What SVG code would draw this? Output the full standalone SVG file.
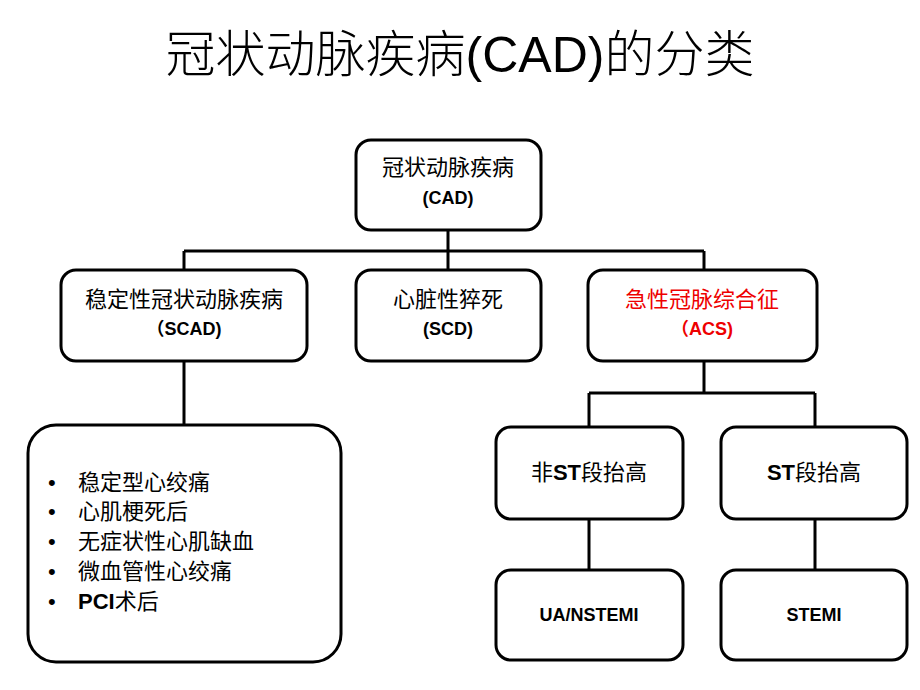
<svg xmlns="http://www.w3.org/2000/svg" width="920" height="690" viewBox="0 0 920 690">
<style>
.b{fill:#fff;stroke:#000;stroke-width:3}
.t{font-family:"Liberation Sans","Noto Sans CJK SC",sans-serif;font-size:22px;text-anchor:middle;fill:#000}
.e{font-weight:bold;font-size:18px}
.l{stroke:#000;stroke-width:3;fill:none}
</style>
<rect width="920" height="690" fill="#fff"/>
<text x="460" y="72" class="t" style="font-size:50px;font-weight:300">冠状动脉疾病(CAD)的分类</text>
<g id="connectors">
<path class="l" d="M448 230V251M184 251H704M184 251V270M448 251V270M704 251V270M184 361V425M704 361V393M589 393H815M589 393V427M815 393V427M589 519V570M815 519V570"/>
</g>
<g id="cad"><rect class="b" x="356" y="140" width="185" height="90" rx="15"/><text class="t" x="448" y="175">冠状动脉疾病</text><text class="t e" x="448" y="204">(CAD)</text></g>
<g id="scad"><rect class="b" x="61" y="270" width="246" height="91" rx="15"/><text class="t" x="184" y="307">稳定性冠状动脉疾病</text><text class="t e" x="184" y="335">（SCAD)</text></g>
<g id="scd"><rect class="b" x="356" y="270" width="185" height="91" rx="15"/><text class="t" x="448" y="307">心脏性猝死</text><text class="t e" x="448" y="335">(SCD)</text></g>
<g id="acs"><rect class="b" x="588" y="270" width="229" height="91" rx="15"/><text class="t" x="702" y="307" style="fill:#e00">急性冠脉综合征</text><text class="t e" x="702" y="335" style="fill:#e00">（ACS)</text></g>
<g id="list"><rect class="b" x="28" y="425" width="313" height="237" rx="28"/>
<g class="t" style="text-anchor:start">
<text x="48" y="490">•</text><text x="78" y="490">稳定型心绞痛</text>
<text x="48" y="519">•</text><text x="78" y="519">心肌梗死后</text>
<text x="48" y="549">•</text><text x="78" y="549">无症状性心肌缺血</text>
<text x="48" y="579">•</text><text x="78" y="579">微血管性心绞痛</text>
<text x="48" y="609">•</text><text x="78" y="609"><tspan font-weight="bold">PCI</tspan>术后</text>
</g></g>
<g id="nst"><rect class="b" x="496" y="427" width="187" height="92" rx="15"/><text class="t" x="589" y="480">非<tspan font-weight="bold">ST</tspan>段抬高</text></g>
<g id="st"><rect class="b" x="721" y="427" width="186" height="92" rx="15"/><text class="t" x="814" y="480"><tspan font-weight="bold">ST</tspan>段抬高</text></g>
<g id="ua"><rect class="b" x="496" y="570" width="187" height="90" rx="15"/><text class="t e" x="589" y="621">UA/NSTEMI</text></g>
<g id="stemi"><rect class="b" x="721" y="570" width="186" height="90" rx="15"/><text class="t e" x="814" y="621">STEMI</text></g>
</svg>
